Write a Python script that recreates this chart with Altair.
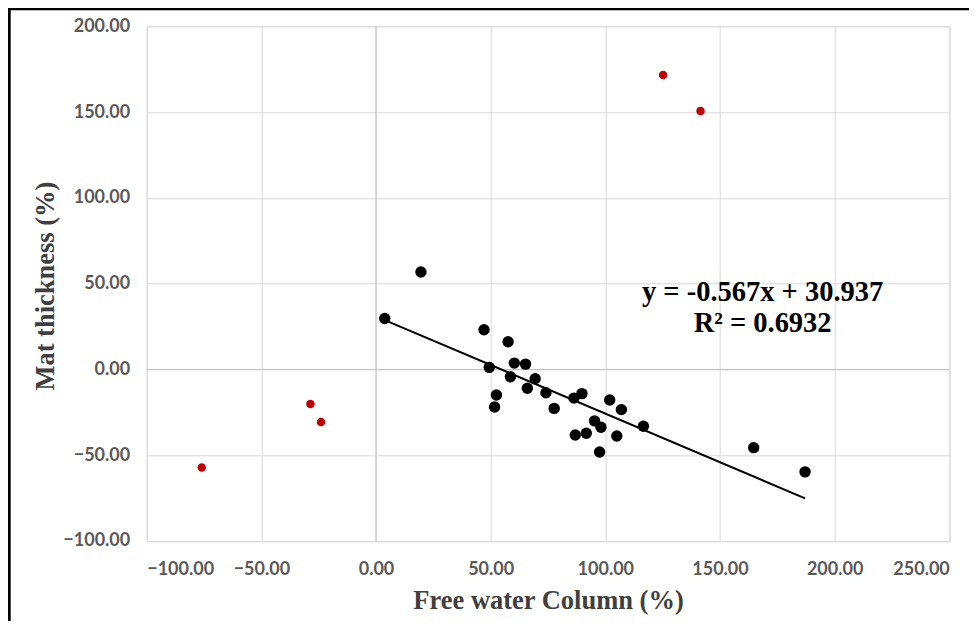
import altair as alt
import pandas as pd

# Black points (used for regression)
fit_x = [3.8, 19.6, 47.1, 57.6, 60.3, 65.2, 49.4, 58.6, 69.4, 66.0, 74.1, 52.5, 51.7, 77.7,
         86.3, 89.8, 101.9, 107.0, 95.3, 98.1, 116.6, 86.9, 91.7, 105.0, 97.5, 164.7, 187.1]
fit_y = [29.7, 56.8, 23.1, 16.1, 3.7, 3.1, 1.2, -4.3, -5.4, -11.0, -13.6, -14.9, -21.9, -22.7,
         -16.7, -14.1, -17.8, -23.4, -30.0, -33.7, -33.1, -38.2, -37.2, -38.8, -48.1, -45.6, -59.7]

# Red points (outliers)
out_x = [125.2, 141.5, -76.0, -28.6, -24.0]
out_y = [171.6, 150.6, -57.2, -20.1, -30.6]

# Trendline from the stated equation
slope = -0.567
intercept = 30.937
eq_lines = ["y = -0.567x + 30.937", "R² = 0.6932"]
eq_x = [168.6, 168.6]
eq_y = [45.2, 27.1]

x_ticks = [-100, -50, 0, 50, 100, 150, 200, 250]
y_ticks = [-100, -50, 0, 50, 100, 150, 200]

fit_df = pd.DataFrame({"x": fit_x, "y": fit_y})
out_df = pd.DataFrame({"x": out_x, "y": out_y})
line_x = [min(fit_x), max(fit_x)]
line_df = pd.DataFrame({"x": line_x, "y": [slope * v + intercept for v in line_x]})
eq_df = pd.DataFrame({"x": eq_x, "y": eq_y, "t": eq_lines})
zero_df = pd.DataFrame({"v": [0]})

W, H = 802.6, 514.7
label_font = "Lato"
serif = "Liberation Serif"

xs = alt.Scale(domain=[-100, 250], nice=False, zero=False)
ys = alt.Scale(domain=[-100, 200], nice=False, zero=False)

x_axis = alt.Axis(values=x_ticks, format=".2f", title="Free water Column (%)",
                  grid=True, gridColor="#D9D9D9", gridWidth=1, ticks=False, domain=False,
                  labelFont=label_font, labelFontSize=18, labelFontWeight="bold",
                  labelColor="#595959", labelPadding=20,
                  titleFont=serif, titleFontSize=26.5, titleFontWeight="bold", titleColor="#404040",
                  titlePadding=9)
y_axis = alt.Axis(values=y_ticks, format=".2f", title="Mat thickness (%)",
                  grid=True, gridColor="#D9D9D9", gridWidth=1, ticks=False, domain=False,
                  labelFont=label_font, labelFontSize=18, labelFontWeight="bold",
                  labelColor="#595959", labelPadding=17,
                  titleFont=serif, titleFontSize=26.5, titleFontWeight="bold", titleColor="#404040",
                  titleX=-101, titleY=H / 2 + 2, titleAngle=-90, titleBaseline="middle",
                  titleAlign="center")

zero_x = alt.Chart(zero_df).mark_rule(color="#BFBFBF", strokeWidth=1).encode(
    x=alt.X("v:Q", scale=xs, axis=x_axis))
zero_y = alt.Chart(zero_df).mark_rule(color="#BFBFBF", strokeWidth=1).encode(
    y=alt.Y("v:Q", scale=ys, axis=y_axis))

trend = alt.Chart(line_df).mark_line(color="black", strokeWidth=2).encode(
    x=alt.X("x:Q", scale=xs), y=alt.Y("y:Q", scale=ys))

pts = alt.Chart(fit_df).mark_circle(color="black", size=130, opacity=1).encode(
    x=alt.X("x:Q", scale=xs), y=alt.Y("y:Q", scale=ys))

red = alt.Chart(out_df).mark_circle(color="#C00000", size=72, opacity=1).encode(
    x=alt.X("x:Q", scale=xs), y=alt.Y("y:Q", scale=ys))

eq = alt.Chart(eq_df).mark_text(font=serif, fontSize=28.5, fontWeight="bold", color="black",
                                align="center", baseline="middle").encode(
    x=alt.X("x:Q", scale=xs), y=alt.Y("y:Q", scale=ys), text="t:N")

# outer chart frame (left and top edges visible in the reference)
frame_left = alt.Chart(zero_df).mark_rule(color="black", strokeWidth=3, clip=False).encode(
    x=alt.value(-137.5), y=alt.value(-18), y2=alt.value(H + 95))
frame_top = alt.Chart(zero_df).mark_rule(color="black", strokeWidth=3, clip=False).encode(
    x=alt.value(-139), x2=alt.value(W + 40), y=alt.value(-17.5))

chart = alt.layer(zero_x, zero_y, trend, pts, red, eq, frame_left, frame_top).properties(
    width=W, height=H,
    autosize=alt.AutoSizeParams(type="none"),
    padding={"left": 138.7, "top": 18.3, "right": 20, "bottom": 80},
).configure_view(stroke=None).configure(background="white")

chart.save("out.html", embed_options={"renderer": "svg", "actions": False})
